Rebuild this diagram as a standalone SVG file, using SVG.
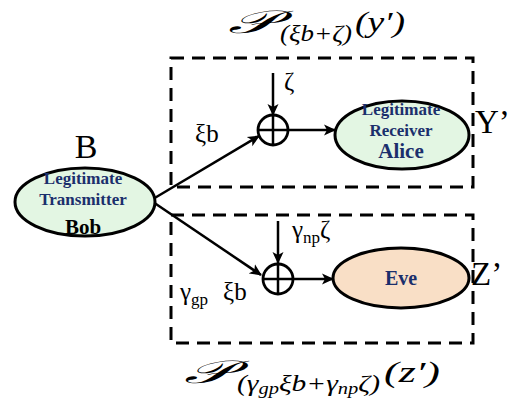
<svg xmlns="http://www.w3.org/2000/svg" width="523" height="402" viewBox="0 0 523 402">
<style>
.box{fill:none;stroke:#000;stroke-width:3;stroke-dasharray:13 8}
.ell{stroke:#000;stroke-width:3}
.ln{stroke:#000;stroke-width:2.5;fill:none}
.nt{font-family:'Liberation Serif','Times New Roman',serif;font-weight:bold;fill:#1b2f6c;text-anchor:middle}
.blk{fill:#000}
.lb{font-family:'Liberation Serif','Times New Roman',serif;fill:#000}
.mi{font-family:'Liberation Serif','Times New Roman',serif;font-style:italic;fill:#000}
</style>
<defs>
<marker id="ah" markerWidth="12" markerHeight="12" refX="11" refY="6" orient="auto" markerUnits="userSpaceOnUse" viewBox="0 0 12 12">
<path d="M0,0.5 L12,6 L0,11.5 L3,6 Z" fill="#000"/>
</marker>
</defs>
<rect class="box" x="171" y="58" width="302" height="129"/>
<rect class="box" x="171" y="215" width="302" height="128"/>
<g id="connectors">
<line class="ln" x1="153" y1="199" x2="259" y2="136" marker-end="url(#ah)"/>
<line class="ln" x1="153" y1="202" x2="261" y2="275" marker-end="url(#ah)"/>
<line class="ln" x1="273" y1="73" x2="273" y2="115" marker-end="url(#ah)"/>
<line class="ln" x1="278" y1="221" x2="278" y2="263" marker-end="url(#ah)"/>
<line class="ln" x1="288" y1="130" x2="335" y2="130" marker-end="url(#ah)"/>
<line class="ln" x1="293" y1="279" x2="333" y2="279" marker-end="url(#ah)"/>
</g>
<g id="bob">
<ellipse class="ell" cx="85" cy="202" rx="70" ry="34" fill="#e3f6e3"/>
<text class="nt" x="83" y="184" font-size="17">Legitimate</text>
<text class="nt" x="83" y="205" font-size="17">Transmitter</text>
<text class="nt blk" x="83" y="234" font-size="21">Bob</text>
</g>
<text class="lb" x="86" y="158" font-size="34" text-anchor="middle">B</text>
<g id="sum1">
<circle cx="273" cy="130" r="15" fill="none" stroke="#000" stroke-width="2.8"/>
<line class="ln" x1="258" y1="130" x2="288" y2="130"/>
<line class="ln" x1="273" y1="115" x2="273" y2="145"/>
</g>
<g id="sum2">
<circle cx="278" cy="279" r="15" fill="none" stroke="#000" stroke-width="2.8"/>
<line class="ln" x1="263" y1="279" x2="293" y2="279"/>
<line class="ln" x1="278" y1="264" x2="278" y2="294"/>
</g>
<g id="alice">
<ellipse class="ell" cx="402" cy="135" rx="67" ry="34" fill="#e3f6e3"/>
<text class="nt" x="401" y="115" font-size="17">Legitimate</text>
<text class="nt" x="401" y="136" font-size="17">Receiver</text>
<text class="nt" x="401" y="158" font-size="21">Alice</text>
</g>
<g id="eve">
<ellipse class="ell" cx="401" cy="278" rx="68" ry="30" fill="#f9dfc6"/>
<text class="nt" x="401" y="285" font-size="20">Eve</text>
</g>
<text class="lb" x="475" y="133" font-size="33">Y’</text>
<text class="lb" x="471" y="285" font-size="33">Z’</text>
<text class="lb" x="195" y="142" font-size="25">ξb</text>
<text class="lb" x="284" y="90" font-size="25">ζ</text>
<text class="lb" x="292" y="238" font-size="25">γ<tspan font-size="17" dy="5">np</tspan><tspan dy="-5">ζ</tspan></text>
<text class="lb" x="180" y="300" font-size="25">γ<tspan font-size="17" dy="5">gp</tspan></text>
<text class="lb" x="223" y="300" font-size="25">ξb</text>
<g id="title-top">
<text class="mi" x="228" y="33" font-size="32" textLength="48" lengthAdjust="spacingAndGlyphs">𝒫</text>
<text class="mi" x="280" y="41" font-size="24" textLength="72" lengthAdjust="spacingAndGlyphs">(ξb+ζ)</text>
<text class="mi" x="355" y="32" font-size="30" textLength="50" lengthAdjust="spacingAndGlyphs">(y′)</text>
</g>
<g id="title-bottom">
<text class="mi" x="184" y="383" font-size="32" textLength="48" lengthAdjust="spacingAndGlyphs">𝒫</text>
<text class="mi" x="237" y="391" font-size="23" textLength="143" lengthAdjust="spacingAndGlyphs">(γ<tspan font-size="16" dy="3">gp</tspan><tspan dy="-3">ξb+γ</tspan><tspan font-size="16" dy="3">np</tspan><tspan dy="-3">ζ)</tspan></text>
<text class="mi" x="384" y="382" font-size="30" textLength="56" lengthAdjust="spacingAndGlyphs">(z′)</text>
</g>
</svg>
